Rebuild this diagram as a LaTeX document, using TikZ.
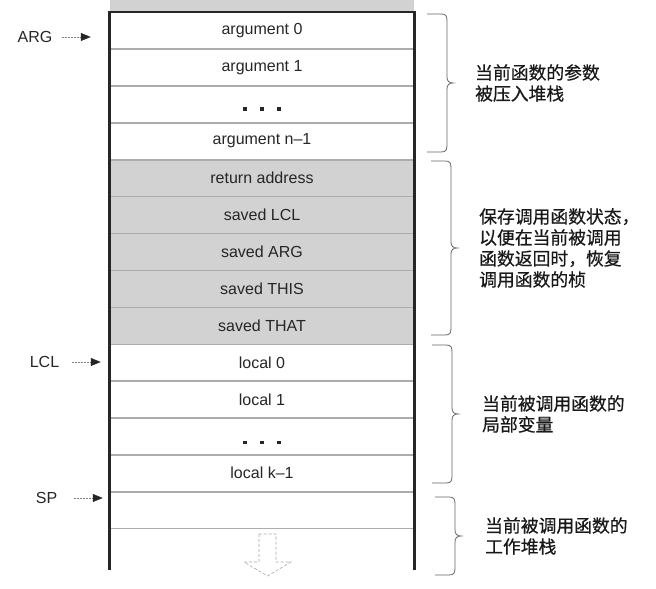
\documentclass[tikz,border=0pt]{standalone}
\usepackage{fontspec}
\setmainfont{Liberation Sans}
\newfontfamily\cjk[FakeBold=0.6]{Noto Sans CJK SC}
\usetikzlibrary{positioning,arrows.meta}

\tikzset{
  cell/.style={draw=gray!65, line width=0.5pt, minimum width=304pt, minimum height=36.4pt,
    inner sep=0pt, text=black!85, font=\fontsize{16}{19}\selectfont},
  savedcell/.style={cell, fill=gray!35},
  border/.style={line width=2.6pt, black!85},
  ptr/.style={text=black!85, font=\fontsize{16}{19}\selectfont, inner sep=0pt},
  ptrarrow/.style={gray, line width=0.5pt, dash pattern=on 2pt off 1pt,
    -{Triangle[length=10pt,width=8pt,black!85]}},
  note/.style={align=left, anchor=west, inner sep=0pt, text=black!90,
    font=\cjk\fontsize{17.8}{21}\selectfont},
  curly/.style={black!60, line width=0.8pt},
}

% brace on the right of the stack: x, top, bottom, name of tip
\newcommand{\stackbrace}[4]{%
  \pgfmathsetmacro\bmid{(#2+#3)/2}%
  \pgfmathsetmacro\bh{(#2-#3)/2}%
  \begin{scope}[shift={(#1,\bmid)}]
    \draw[curly] (0,\bh) -- (14,\bh) .. controls (19,\bh) and (20,\bh-2) .. (20,\bh-7)
      -- (20,6) .. controls (20,2) and (22,0) .. (26,0)
      .. controls (22,0) and (20,-2) .. (20,-6)
      -- (20,-\bh+7) .. controls (20,-\bh+2) and (19,-\bh) .. (14,-\bh) -- (0,-\bh);
    \coordinate (#4) at (26,0);
  \end{scope}%
}

\begin{document}
\begin{tikzpicture}[x=1pt,y=1pt]
  \useasboundingbox (0,0) rectangle (656,589);

  % arguments of the current function
  \node[cell, anchor=north] (arg0) at (262,577) {argument 0};
  \node[cell, below=0pt of arg0] (arg1) {argument 1};
  \node[cell, below=0pt of arg1] (argdots) {};
  \node[cell, below=0pt of argdots] (argn) {argument n--1};

  % saved frame of the caller
  \node[savedcell, below=0pt of argn] (retaddr) {return address};
  \node[savedcell, below=0pt of retaddr] (savedlcl) {saved LCL};
  \node[savedcell, below=0pt of savedlcl] (savedarg) {saved ARG};
  \node[savedcell, below=0pt of savedarg] (savedthis) {saved THIS};
  \node[savedcell, below=0pt of savedthis] (savedthat) {saved THAT};

  % locals and working stack
  \node[cell, below=0pt of savedthat] (loc0) {local 0};
  \node[cell, below=0pt of loc0] (loc1) {local 1};
  \node[cell, below=0pt of loc1] (locdots) {};
  \node[cell, below=0pt of locdots] (lock) {local k--1};
  \node[cell, below=0pt of lock] (sprow) {};

  % frame above and outline
  \fill[gray!35] (arg0.north west) rectangle ([yshift=12pt]arg0.north east);
  \draw[border] ([yshift=-41pt]sprow.south west) -- (arg0.north west)
    -- (arg0.north east) -- ([yshift=-41pt]sprow.south east);

  % dots
  \foreach \dx in {-17,0,17} {
    \fill[black!85] ([shift={(\dx,-5)}]argdots.center) +(-1.8,-1.8) rectangle +(1.8,1.8);
    \fill[black!85] ([shift={(\dx,-6)}]locdots.center) +(-1.8,-1.8) rectangle +(1.8,1.8);
  }

  % growth direction
  \draw[gray!70, line width=0.6pt, dash pattern=on 3pt off 2pt]
    (259,55) -- (259,27) -- (244,27) -- (267.5,13) -- (291,27) -- (276,27) -- (276,55) -- cycle;

  % pointers
  \node[ptr] (argp) at (35,552) {ARG};
  \node[ptr] (lclp) at (44.5,227) {LCL};
  \node[ptr] (spp) at (46.5,91) {SP};
  \draw[ptrarrow, shorten >=19pt] ([xshift=9pt]argp.east) -- (argp -| arg0.west);
  \draw[ptrarrow, shorten >=9pt] ([xshift=13pt]lclp.east) -- (lclp -| loc0.west);
  \draw[ptrarrow, shorten >=7pt] ([xshift=17pt]spp.east) -- (spp -| sprow.west);

  % braces and notes
  \stackbrace{427}{575}{437}{b1tip}
  \stackbrace{431}{428}{254}{b2tip}
  \stackbrace{432}{244}{106}{b3tip}
  \stackbrace{435}{92}{14}{b4tip}
  \node[note, right=22pt of b1tip] (n1) {当前函数的参数\\被压入堆栈};
  \node[note, right=22pt of b2tip] (n2) {保存调用函数状态，\\以便在当前被调用\\函数返回时，恢复\\调用函数的桢};
  \node[note, right=24pt of b3tip] (n3) {当前被调用函数的\\局部变量};
  \node[note, right=24pt of b4tip] (n4) {当前被调用函数的\\工作堆栈};
\end{tikzpicture}
\end{document}
